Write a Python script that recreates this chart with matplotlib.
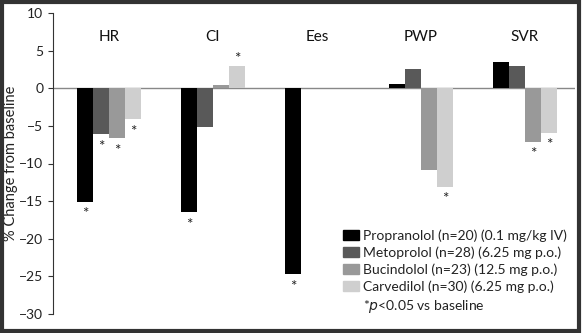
import numpy as np
import matplotlib.pyplot as plt
from matplotlib.patches import Rectangle, Patch

plt.rcParams['font.family'] = ['Lato', 'DejaVu Sans']

# Hemodynamic parameters and drug response (% change from baseline)
params = ['HR', 'CI', 'Ees', 'PWP', 'SVR']
drugs = ['Propranolol (n=20) (0.1 mg/kg IV)',
         'Metoprolol (n=28) (6.25 mg p.o.)',
         'Bucindolol (n=23) (12.5 mg p.o.)',
         'Carvedilol (n=30) (6.25 mg p.o.)']
propranolol = [-15.1, -16.5, -24.7, 0.6, 3.45]
metoprolol = [-6.1, -5.2, np.nan, 2.6, 3.0]
bucindolol = [-6.65, 0.4, np.nan, -10.8, -7.1]
carvedilol = [-4.1, 3.0, np.nan, -13.1, -5.9]
# significance flags (p<0.05) per drug per parameter
sig_prop = [1, 1, 1, 0, 0]
sig_meto = [1, 0, 0, 0, 0]
sig_bucin = [1, 0, 0, 0, 1]
sig_carv = [1, 1, 0, 1, 1]

values = [propranolol, metoprolol, bucindolol, carvedilol]
sigs = [sig_prop, sig_meto, sig_bucin, sig_carv]
colors = ['#000000', '#595959', '#999999', '#cfcfcf']

fig = plt.figure(figsize=(5.82, 3.33), dpi=100)
ax = fig.add_axes([53 / 582, 19 / 333, 522 / 582, 301 / 333])

x = np.arange(len(params))
w = 0.154
for k, (vals, col, sig) in enumerate(zip(values, colors, sigs)):
    xs = x + (k - 1.5) * w
    ax.bar(xs, vals, width=w, color=col, label=drugs[k])
    for xi, v, s in zip(xs, vals, sig):
        if s and not np.isnan(v):
            off = -9 if v < 0 else 5
            ax.annotate('*', (xi, v), xytext=(0, off), textcoords='offset points',
                        ha='center', va='center', fontsize=11, color='#222222')

for xi, p in zip(x, params):
    ax.text(xi, 6.8, p, ha='center', va='center', fontsize=11, color='#111111')

ax.axhline(0, color='#888888', lw=1.0, zorder=0)
ax.set_xlim(-0.538, 4.48)
ax.set_ylim(-30, 10)
ax.set_yticks(range(-30, 11, 5))
ax.set_xticks([])
for s in ['top', 'right', 'bottom']:
    ax.spines[s].set_visible(False)
ax.spines['left'].set_color('#333333')
ax.tick_params(axis='y', length=3.6, pad=3.5, color='#333333', labelsize=10,
               labelcolor='#222222')
ax.set_ylabel('% Change from baseline', fontsize=10.5, color='#222222')
ax.yaxis.set_label_coords(-0.068, 0.5)

handles = [Patch(color=c) for c in colors] + [Patch(color='none')]
labels = drugs + ['*$\\it{p}$<0.05 vs baseline']
fig.legend(handles, labels, loc='upper left', bbox_to_anchor=(343 / 582, 1 - 229 / 333),
           frameon=False, fontsize=10, handlelength=1.15, handleheight=0.72,
           handletextpad=0.3, labelspacing=0.33, borderpad=0, borderaxespad=0,
           labelcolor='#222222')

fig.patches.append(Rectangle((0.004, 0.006), 0.991, 0.988, transform=fig.transFigure,
                             fill=False, edgecolor='#333333', lw=3))

plt.savefig('out.png', dpi=100)
